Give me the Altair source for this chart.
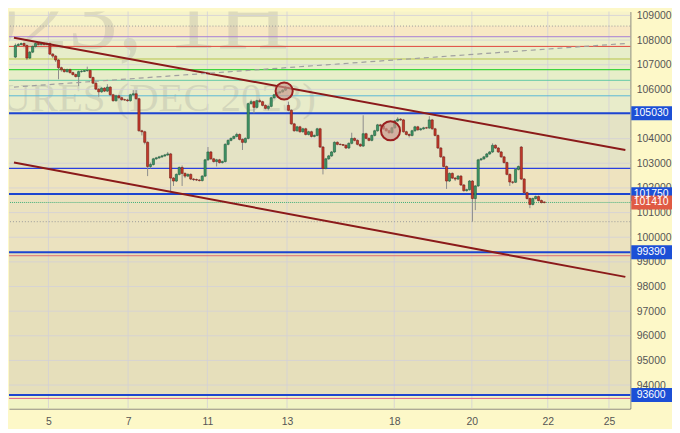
import altair as alt
import pandas as pd

W, H = 626, 400

opens = [107310, 107780, 107820, 107860, 107780, 107270, 107510, 107740, 107860, 107820,
         107860, 107820, 107860, 107430, 107350, 107190, 106880, 106800, 106720, 106800,
         106680, 106600, 106520, 106720, 106730, 106760, 106770, 106480, 106250, 106010,
         105900, 106050, 105930, 106090, 105780, 105540, 105740, 105660, 105580, 105570,
         105540, 105780, 105820, 105620, 104320, 104280, 103850, 102870, 102950, 103180,
         103220, 103260, 103300, 103340, 103380, 102400, 102280, 102550, 102830, 102590,
         102480, 102550, 102360, 102340, 102320, 102300, 102480, 103140, 103460, 103180,
         103070, 103140, 103030, 103070, 103770, 103930, 104010, 104090, 104170, 103970,
         103850, 104010, 105420, 105500, 105270, 105540, 105500, 105350, 105230, 105310,
         105660, 105780, 105860, 105900, 105970, 105350, 105150, 104600, 104320, 104480,
         104280, 104400, 104170, 104280, 104090, 104130, 104400, 103660, 102790, 103180,
         103300, 103460, 103850, 103770, 103760, 103730, 103620, 103810, 104010, 103930,
         103770, 103700, 104200, 104010, 103930, 104130, 104320, 104560, 104520, 104400,
         104320, 104240, 104440, 104720, 104790, 104760, 104280, 104170, 104130, 104320,
         104480, 104360, 104400, 104440, 104430, 104760, 104400, 104130, 103620, 103260,
         102870, 102280, 102590, 102400, 102360, 102480, 102120, 101890, 101930, 102280,
         101570, 102080, 103140, 103180, 103260, 103380, 103460, 103730, 103620, 103460,
         103260, 103030, 102550, 102240, 102230, 102750, 103660, 102360, 101810, 101570,
         101330, 101570, 101650, 101490, 101430]
closes = [107780, 107820, 107860, 107780, 107270, 107510, 107740, 107860, 107820, 107860,
          107820, 107860, 107430, 107350, 107190, 106880, 106800, 106720, 106800, 106680,
          106600, 106520, 106720, 106730, 106760, 106770, 106480, 106250, 106010, 105900,
          106050, 105930, 106090, 105780, 105540, 105740, 105660, 105580, 105570, 105540,
          105780, 105820, 105620, 104320, 104280, 103850, 102870, 102950, 103180, 103220,
          103260, 103300, 103340, 103380, 102400, 102280, 102550, 102830, 102590, 102480,
          102550, 102360, 102340, 102320, 102300, 102480, 103140, 103460, 103180, 103070,
          103140, 103030, 103070, 103770, 103930, 104010, 104090, 104170, 103970, 103850,
          104010, 105420, 105500, 105270, 105540, 105500, 105350, 105230, 105310, 105660,
          105780, 105860, 105900, 105970, 106050, 105150, 104600, 104320, 104480, 104280,
          104400, 104170, 104280, 104090, 104130, 104400, 103660, 102790, 103180, 103300,
          103460, 103850, 103770, 103760, 103730, 103620, 103810, 104010, 103930, 103770,
          103700, 104200, 104010, 103930, 104130, 104320, 104560, 104520, 104400, 104320,
          104240, 104440, 104720, 104790, 104760, 104280, 104170, 104130, 104320, 104480,
          104360, 104400, 104440, 104430, 104760, 104400, 104130, 103620, 103260, 102870,
          102280, 102590, 102400, 102360, 102480, 102120, 101890, 101930, 102280, 101570,
          102080, 103140, 103180, 103260, 103380, 103460, 103730, 103620, 103460, 103260,
          103030, 102550, 102240, 102230, 102750, 102870, 102360, 101810, 101570, 101330,
          101570, 101650, 101490, 101410, 101410]
highs = [107860, 107880, 107900, 107900, 107820, 107550, 107780, 107900, 107900, 107900,
         107900, 107900, 107900, 107470, 107390, 107230, 106920, 106840, 106840, 106840,
         106720, 106640, 106760, 106800, 106800, 106920, 106800, 106520, 106290, 106050,
         106090, 106090, 106210, 106130, 105820, 105780, 105780, 105700, 105620, 105620,
         105820, 105970, 105970, 105660, 104360, 104320, 103890, 103030, 103220, 103260,
         103300, 103340, 103380, 103460, 103420, 102440, 102590, 102870, 102910, 102630,
         102590, 102590, 102400, 102380, 102360, 102520, 103180, 103660, 103500, 103220,
         103180, 103180, 103110, 103810, 103970, 104050, 104130, 104240, 104210, 104010,
         104050, 105460, 105580, 105540, 105580, 105620, 105540, 105390, 105350, 105700,
         105820, 105900, 105940, 106010, 106130, 105500, 105190, 104640, 104520, 104520,
         104440, 104440, 104320, 104320, 104170, 104440, 104440, 103700, 103220, 103340,
         103500, 103890, 103890, 103810, 103770, 103770, 103850, 104240, 104050, 103970,
         103810, 104950, 104240, 104050, 104170, 104360, 104600, 104600, 104560, 104440,
         104360, 104480, 104760, 104870, 104830, 104800, 104320, 104210, 104360, 104520,
         104520, 104440, 104480, 104480, 104910, 104800, 104440, 104170, 103660, 103300,
         102910, 102630, 102630, 102440, 102520, 102520, 102160, 101970, 102320, 102320,
         102120, 103180, 103220, 103300, 103420, 103500, 103810, 103770, 103660, 103500,
         103300, 103070, 102590, 102280, 102790, 102910, 103700, 102400, 101850, 101610,
         101610, 101690, 101690, 101530, 101450]
lows = [107270, 107740, 107780, 107740, 107190, 107230, 107470, 107700, 107780, 107780,
        107780, 107780, 107390, 107270, 107110, 106410, 106720, 106680, 106680, 106640,
        106560, 106480, 106130, 106680, 106700, 106720, 106440, 106210, 105970, 105700,
        105860, 105890, 105890, 105740, 105500, 105500, 105620, 105540, 105540, 105500,
        105500, 105740, 105580, 104280, 104130, 103770, 102480, 102790, 102910, 103140,
        103180, 103220, 103260, 103300, 101810, 102080, 102240, 102510, 102080, 102400,
        102440, 102320, 102280, 102280, 102260, 102260, 102440, 103100, 103140, 103030,
        102870, 102990, 102990, 103030, 103730, 103890, 103970, 104050, 103930, 103540,
        103810, 103970, 105380, 105030, 105230, 105460, 105310, 105190, 105150, 105270,
        105620, 105740, 105820, 105860, 105930, 105110, 104560, 104280, 104280, 104240,
        104240, 104130, 104130, 104050, 104050, 104090, 103620, 102550, 102750, 103140,
        103260, 103420, 103730, 103730, 103700, 103580, 103580, 103770, 103890, 103730,
        103660, 103660, 103970, 103890, 103890, 104090, 104280, 104480, 104360, 104280,
        104200, 104200, 104400, 104680, 104720, 104240, 104130, 104050, 104090, 104280,
        104320, 104320, 104360, 104400, 104400, 104360, 104090, 103580, 103220, 102830,
        101960, 102240, 102360, 102280, 102320, 102080, 101850, 101850, 101890, 100630,
        101100, 102040, 103100, 103140, 103220, 103340, 103420, 103580, 103420, 103220,
        102990, 102510, 102080, 102160, 102200, 102710, 102320, 101770, 101530, 101180,
        101290, 101530, 101450, 101370, 101370]

# x axis: day labels at bar positions
day_pos = [11.5, 39.2, 66.8, 94.5, 131.8, 158.8, 185.2, 206.5]
day_lbl = ["5", "7", "11", "13", "18", "20", "22", "25"]
price_ticks = list(range(94000, 109001, 1000))

# background bands (price ranges)
band_top = [109157, 108568, 108136, 107743, 105739, 105030, 102792, 101750, 99390, 93600]
band_bot = [108568, 108136, 107743, 105739, 105030, 102792, 101750, 99390, 93600, 93047]
band_col = ['#f7f3c9', '#f8e8c4', '#eff0cb', '#e7eec9', '#e8ecca', '#e4e3c5',
            '#eee3bf', '#ebe2bf', '#e6dfbb', '#f1f4c4']

# horizontal levels
lvl_price = [108136, 107743, 107232, 106800, 106367, 105739, 105030, 102792, 101750,
             99390, 99250, 93600, 93460]
lvl_color = ['#a77bd6', '#e0463c', '#b9c44a', '#3fd43f', '#62c9a6', '#5ab6d6', '#1d45d0',
             '#2a40e0', '#1d45d0', '#1d45d0', '#e07070', '#1d45d0', '#e0608a']
lvl_width = [1, 1, 1, 1.2, 1, 1, 2, 1.3, 2, 2, 1, 2, 1]
dot_price = [108568, 100630]
last_price = [101410]

# trend lines
trend_x = [-0.5, 212.2]
upper_trend = [108096, 103538]
lower_trend = [103028, 98391]
dashed_trend = [106092, 107861]

# circles
circ_bar = [93.5, 130.5]
circ_price = [105934, 104323]
circ_size = [300, 370]

# price badges
badge_price = [105030, 101750, 101410, 99390, 93600]
badge_color = ['#1c4fd6', '#1c4fd6', '#e05a44', '#1c4fd6', '#1c4fd6']

wm_line1 = ["RIZ2023, 1H"]
wm_line2 = ["RTS INDEX FUTURES (DEC 2023)"]

xs = alt.Scale(domain=[-0.5, 212.2], nice=False, zero=False)
ys = alt.Scale(domain=[93047, 109157], nice=False, zero=False)

label_expr = " : ".join(f"datum.value == {p} ? '{l}'" for p, l in zip(day_pos, day_lbl)) + " : ''"

y_axis = alt.Axis(orient='right', values=price_ticks, format='d',
                  grid=False, ticks=False, labelPadding=6,
                  labelOverlap=False, labelFlush=False,
                  domainColor='#6e6e6e', labelColor='#555555',
                  labelFontSize=10.5, labelFont='Liberation Sans',
                  title=None, minExtent=42, maxExtent=42)
x_axis = alt.Axis(values=day_pos, labelExpr=label_expr,
                  grid=False, ticks=False, labelPadding=8,
                  labelOverlap=False, labelFlush=False,
                  domainColor='#6e6e6e', labelColor='#555555',
                  labelFontSize=10.5, labelFont='Liberation Sans', title=None)


def Y(field):
    return alt.Y(field, scale=ys, axis=y_axis)


def X(field):
    return alt.X(field, scale=xs, axis=x_axis)


candles = pd.DataFrame({'bar': list(range(len(closes))), 'open': opens, 'high': highs,
                        'low': lows, 'close': closes})
candles['dir'] = ['up' if c > o else 'down' for o, c in zip(opens, closes)]
candles['fill'] = ['#3f9566' if d == 'up' else '#c23a2c' for d in candles['dir']]
candles['edge'] = ['#1f5e3c' if d == 'up' else '#7b1d14' for d in candles['dir']]

bands = pd.DataFrame({'top': band_top, 'bot': band_bot, 'col': band_col})
band_layer = alt.Chart(bands).mark_rect().encode(
    x=alt.value(0), x2=alt.value(W),
    y=Y('top:Q'), y2='bot:Q',
    fill=alt.Fill('col:N', scale=None),
)

wm1 = alt.Chart(pd.DataFrame({'t': wm_line1})).mark_text(
    align='right', baseline='alphabetic', fontSize=100, font='Liberation Sans Narrow',
    color='#8a8a8a', opacity=0.22, clip=True
).encode(text='t:N', x=alt.value(282), y=alt.value(37))

wm2 = alt.Chart(pd.DataFrame({'t': wm_line2})).mark_text(
    align='right', baseline='alphabetic', fontSize=41, font='Liberation Sans Narrow',
    color='#8a8a8a', opacity=0.22, clip=True
).encode(text='t:N', x=alt.value(309), y=alt.value(100))

ygrid = alt.Chart(pd.DataFrame({'p': price_ticks})).mark_rule(
    color='#d3d0d8', strokeWidth=1, opacity=0.8
).encode(y=Y('p:Q'))

xgrid = alt.Chart(pd.DataFrame({'d': day_pos})).mark_rule(
    color='#d3d0d8', strokeWidth=1, opacity=0.8
).encode(x=X('d:Q'))

levels = alt.Chart(pd.DataFrame({'p': lvl_price, 'c': lvl_color, 'w': lvl_width})).mark_rule().encode(
    y=Y('p:Q'),
    stroke=alt.Stroke('c:N', scale=None),
    strokeWidth=alt.StrokeWidth('w:Q', scale=None),
)

dots = alt.Chart(pd.DataFrame({'p': dot_price})).mark_rule(
    color='#9a9a9a', strokeWidth=1, strokeDash=[1, 2]
).encode(y=Y('p:Q'))

lastline = alt.Chart(pd.DataFrame({'p': last_price})).mark_rule(
    color='#3fae7a', strokeWidth=1, strokeDash=[1, 1]
).encode(y=Y('p:Q'))

wicks = alt.Chart(candles).mark_rule(color='#8c8c8c', strokeWidth=1).encode(
    x=X('bar:Q'), y=Y('low:Q'), y2='high:Q')

bodies = alt.Chart(candles).mark_bar(size=2.2, strokeWidth=0.6).encode(
    x=X('bar:Q'),
    y=Y('open:Q'), y2='close:Q',
    fill=alt.Fill('fill:N', scale=None),
    stroke=alt.Stroke('edge:N', scale=None),
)

trend_df = pd.DataFrame({
    'bar': trend_x * 2,
    'p': upper_trend + lower_trend,
    'line': ['upper'] * 2 + ['lower'] * 2,
})
trends = alt.Chart(trend_df).mark_line(color='#8b1a1a', strokeWidth=2, clip=True).encode(
    x=X('bar:Q'), y=Y('p:Q'), detail='line:N')

dashed = alt.Chart(pd.DataFrame({'bar': trend_x, 'p': dashed_trend})).mark_line(
    color='#a0a0a0', strokeWidth=1.2, strokeDash=[5, 4], clip=True
).encode(x=X('bar:Q'), y=Y('p:Q'))

circles = alt.Chart(pd.DataFrame({'bar': circ_bar, 'p': circ_price, 's': circ_size})).mark_circle(
    fill='#c9968a', fillOpacity=0.65, stroke='#9a1f1f', strokeWidth=2, strokeOpacity=1
).encode(x=X('bar:Q'), y=Y('p:Q'), size=alt.Size('s:Q', scale=None))

badges_df = pd.DataFrame({'p': badge_price, 'c': badge_color, 't': [str(v) for v in badge_price]})
badge_rect = alt.Chart(badges_df).mark_rect(yOffset=-7, y2Offset=7).encode(
    x=alt.value(W + 1), x2=alt.value(W + 42),
    y=Y('p:Q'), y2='p:Q',
    fill=alt.Fill('c:N', scale=None))
badge_text = alt.Chart(badges_df).mark_text(
    color='white', fontSize=10.5, font='Liberation Sans', align='center', baseline='middle'
).encode(x=alt.value(W + 21), y=Y('p:Q'), text='t:N')

chart = alt.layer(
    band_layer, wm1, wm2, ygrid, xgrid, dots, levels, lastline,
    wicks, bodies, trends, dashed, circles, badge_rect, badge_text
).resolve_scale(
    fill='independent', stroke='independent', strokeWidth='independent', size='independent'
).properties(width=W, height=H, padding=0).configure(
    background='#fdf8c8'
).configure_view(stroke=None)

chart.save("out.html", embed_options={"renderer": "svg", "actions": False})
